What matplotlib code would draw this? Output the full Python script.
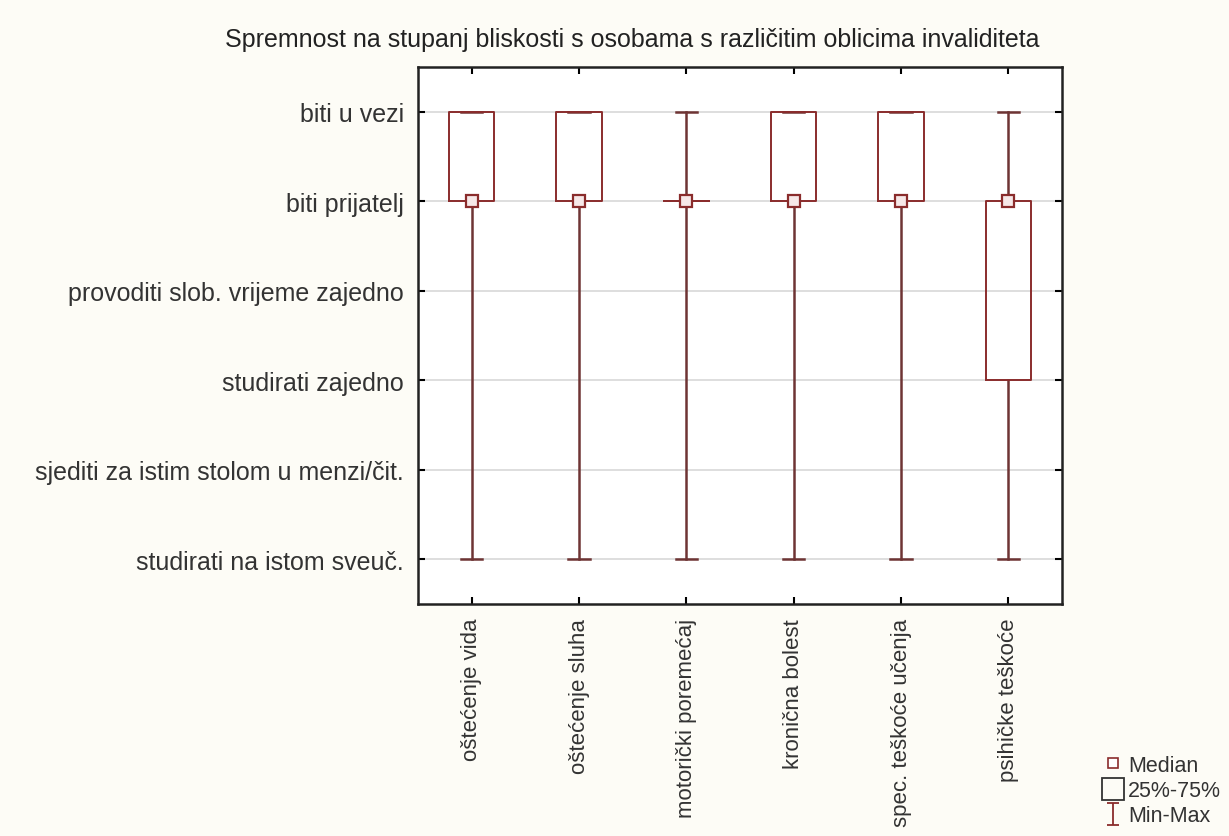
import numpy as np
import matplotlib.pyplot as plt
from matplotlib.lines import Line2D
from matplotlib.path import Path

plt.rcParams['font.family'] = ['Liberation Sans', 'DejaVu Sans']

# Categories (disability types) and answer levels
categories = ['oštećenje vida', 'oštećenje sluha', 'motorički poremećaj',
              'kronična bolest', 'spec. teškoće učenja', 'psihičke teškoće']
levels = ['studirati na istom sveuč.', 'sjediti za istim stolom u menzi/čit.',
          'studirati zajedno', 'provoditi slob. vrijeme zajedno',
          'biti prijatelj', 'biti u vezi']

# Statistics per category (1 = lowest level, 6 = highest)
medians = [5, 5, 5, 5, 5, 5]
q1 = [5, 5, 5, 5, 5, 3]
q3 = [6, 6, 5, 6, 6, 5]
mins = [1, 1, 1, 1, 1, 1]
maxs = [6, 6, 6, 6, 6, 6]

box_color = '#8a2c2c'
whisk_color = '#6e3434'
text_color = '#333333'

fig = plt.figure(figsize=(12.29, 8.37), dpi=100, facecolor='#fdfcf6')
ax = fig.add_axes([418/1229, 1 - 605/837, (1062 - 418)/1229, (605 - 68)/837])
ax.set_facecolor('white')

positions = np.arange(1, len(categories) + 1)
stats = []
for i in range(len(categories)):
    stats.append(dict(med=medians[i], q1=q1[i], q3=q3[i],
                      whislo=mins[i], whishi=maxs[i], fliers=[]))

ax.bxp(stats, positions=positions, widths=0.42, capwidths=0.2,
       showfliers=False,
       boxprops=dict(color=box_color, linewidth=1.4, zorder=4),
       whiskerprops=dict(color=whisk_color, linewidth=1.8),
       capprops=dict(color=whisk_color, linewidth=1.8, zorder=3),
       medianprops=dict(linewidth=0))

ax.plot(positions, medians, ls='none', marker='s', ms=8,
        mfc='#f6e8e8', mec=box_color, mew=1.6, zorder=5)

ax.set_xlim(0.5, 6.5)
ax.set_ylim(0.5, 6.5)
ax.set_xticks(positions)
ax.set_xticklabels(categories, rotation=90, fontsize=16, color=text_color)
ax.set_yticks(np.arange(1, len(levels) + 1))
ax.set_yticklabels(levels, fontsize=18, color=text_color)
ax.yaxis.grid(True, color='#d8d8d8', linewidth=1.2)
ax.set_axisbelow(True)
ax.tick_params(direction='in', top=True, right=True, length=5, width=1.5,
               pad=10)
for s in ax.spines.values():
    s.set_linewidth(1.8)
    s.set_color('#222222')

fig.text(632/1229, 1 - 40/837,
         'Spremnost na stupanj bliskosti s osobama s različitim oblicima invaliditeta',
         ha='center', va='center', fontsize=18, color='#222222')

# Legend
i_path = Path([(-0.5, 1), (0.5, 1), (0, 1), (0, -1), (-0.5, -1), (0.5, -1)],
              [Path.MOVETO, Path.LINETO, Path.MOVETO, Path.LINETO,
               Path.MOVETO, Path.LINETO])
handles = [
    Line2D([], [], ls='none', marker='s', ms=7, mfc='white', mec=box_color, mew=1.2),
    Line2D([], [], ls='none', marker='s', ms=16, mfc='none', mec='#333333', mew=1.3),
    Line2D([], [], ls='none', marker=i_path, ms=16, mfc='none', mec=box_color, mew=1.3),
]
fig.legend(handles, ['Median', '25%-75%', 'Min-Max'], loc='lower right',
           bbox_to_anchor=(1.004, -0.004), frameon=False, fontsize=15.5,
           handlelength=0.8, handletextpad=0.3, labelspacing=0.2,
           borderaxespad=0.2, labelcolor=text_color)

fig.savefig('out.png', dpi=100, facecolor=fig.get_facecolor())
